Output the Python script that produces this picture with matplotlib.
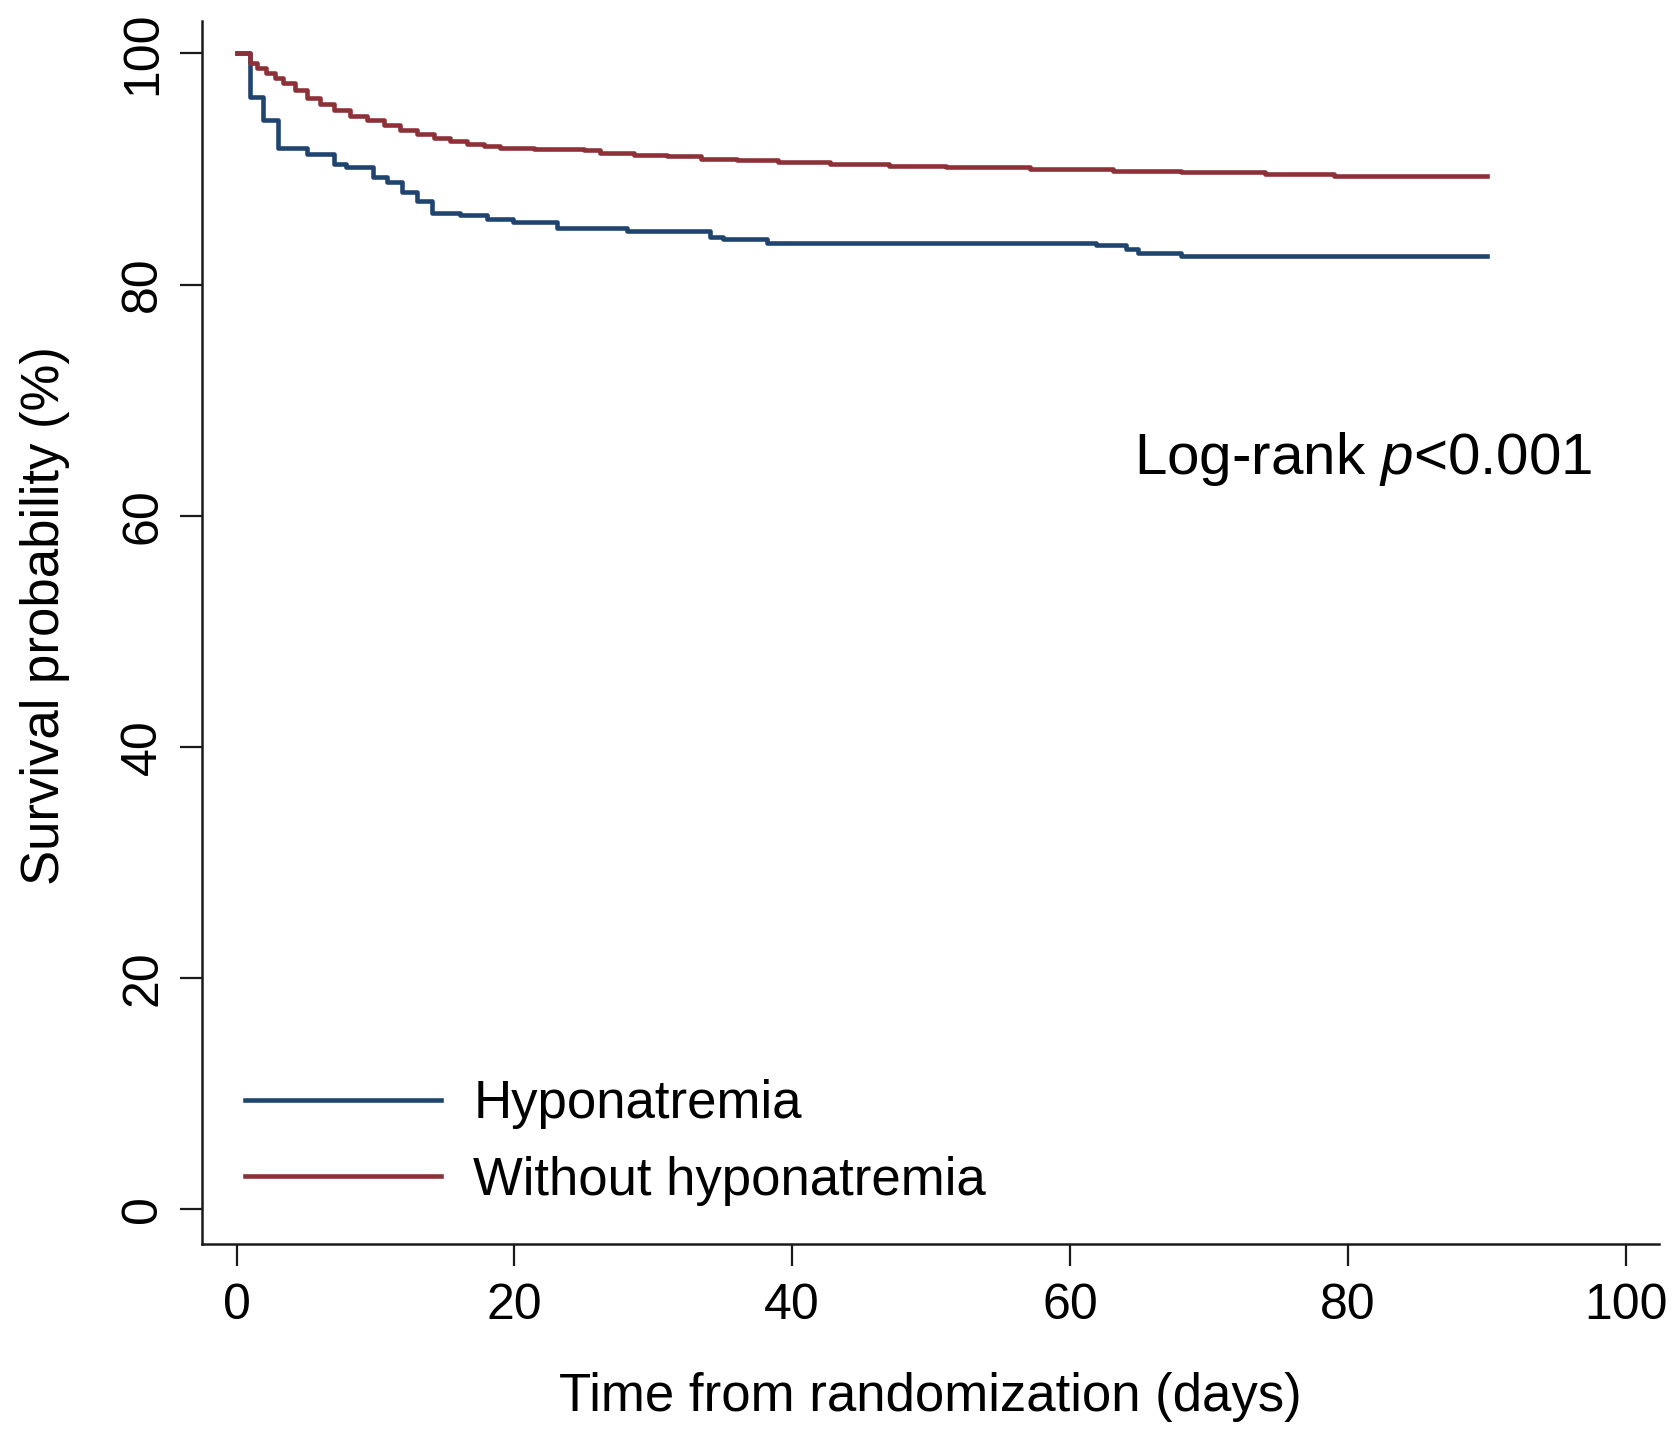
import matplotlib
matplotlib.use("Agg")
import matplotlib.pyplot as plt

# ── Data ──────────────────────────────────────────────────────────────────────
hypo_days = [0, 0.97, 1.93, 3.0, 5.05, 7.0, 7.9, 9.85, 10.8, 11.9, 13.0, 14.05,
             16.1, 18.0, 19.9, 23.05, 28.1, 34.1, 35.0, 38.2, 61.9, 64.0, 64.9,
             68.0, 90.0]
hypo_surv = [100, 96.2, 94.2, 91.8, 91.3, 90.4, 90.2, 89.3, 88.9, 88.0, 87.2, 86.2,
             86.0, 85.7, 85.4, 84.9, 84.6, 84.1, 83.9, 83.6, 83.4, 83.1, 82.75,
             82.5, 82.5]

norm_days = [0, 0.97, 1.5, 2.15, 2.8, 3.35, 4.2, 5.05, 6.0, 7.0, 8.2, 9.4, 10.6,
             11.8, 13.0, 14.2, 15.4, 16.6, 17.8, 19.0, 21.4, 25.0, 26.2, 28.6,
             31.0, 33.4, 36.0, 39.0, 42.7, 47.0, 51.1, 57.1, 63.1, 68.0, 74.0,
             79.0, 83.0, 90.0]
norm_surv = [100, 99.13, 98.7, 98.27, 97.85, 97.4, 96.8, 96.1, 95.6, 95.1, 94.6,
             94.2, 93.8, 93.4, 93.0, 92.65, 92.4, 92.2, 92.0, 91.8, 91.7, 91.6,
             91.4, 91.25, 91.15, 90.9, 90.77, 90.6, 90.4, 90.25, 90.14, 89.97,
             89.85, 89.76, 89.6, 89.42, 89.35, 89.35]

labels = ["Hyponatremia", "Without hyponatremia"]
x_ticks = [0, 20, 40, 60, 80, 100]
y_ticks = [0, 20, 40, 60, 80, 100]

# ── Style ─────────────────────────────────────────────────────────────────────
NAVY = "#1f4470"
MAROON = "#8e3038"
FONT = "Liberation Sans"
FS = 38

plt.rcParams["font.family"] = FONT
plt.rcParams["mathtext.fontset"] = "custom"
plt.rcParams["mathtext.rm"] = FONT
plt.rcParams["mathtext.it"] = FONT + ":italic"

fig = plt.figure(figsize=(16.78, 14.3), dpi=100, facecolor="white")
ax = fig.add_axes([0.1206, 0.1303, 0.8681, 0.8547])

h1, = ax.step(hypo_days, hypo_surv, where="post", color=NAVY, lw=3.3,
              label=labels[0])
h2, = ax.step(norm_days, norm_surv, where="post", color=MAROON, lw=3.3,
              label=labels[1])

ax.set_xlim(-2.46, 102.4)
ax.set_ylim(-2.97, 102.76)
ax.set_xticks(x_ticks)
ax.set_yticks(y_ticks)
ax.tick_params(axis="both", direction="out", length=16, width=1.6,
               labelsize=36, color="#1a1a1a")
ax.tick_params(axis="x", pad=12)
ax.tick_params(axis="y", pad=10)
for t in ax.get_yticklabels():
    t.set_rotation(90)
    t.set_va("center")

for s in ("top", "right"):
    ax.spines[s].set_visible(False)
for s in ("left", "bottom"):
    ax.spines[s].set_linewidth(1.8)
    ax.spines[s].set_color("#1a1a1a")

ax.set_xlabel("Time from randomization (days)", fontsize=FS)
ax.set_ylabel("Survival probability (%)", fontsize=FS)
ax.xaxis.label.set_va("center")
ax.yaxis.label.set_va("center")
ax.xaxis.set_label_coords(0.50, -0.1255)
ax.yaxis.set_label_coords(-0.108, 0.514)

ax.text(81.1, 64.9, "Log-rank $p$<0.001", fontsize=42, ha="center", va="center")

ax.legend(handles=[h1, h2], loc="lower left", bbox_to_anchor=(0.0295, 0.031),
          frameon=False, fontsize=FS, handlelength=3.7, handletextpad=0.62,
          borderpad=0, borderaxespad=0, labelspacing=0.5)

fig.savefig("out.png", dpi=100, facecolor="white")
